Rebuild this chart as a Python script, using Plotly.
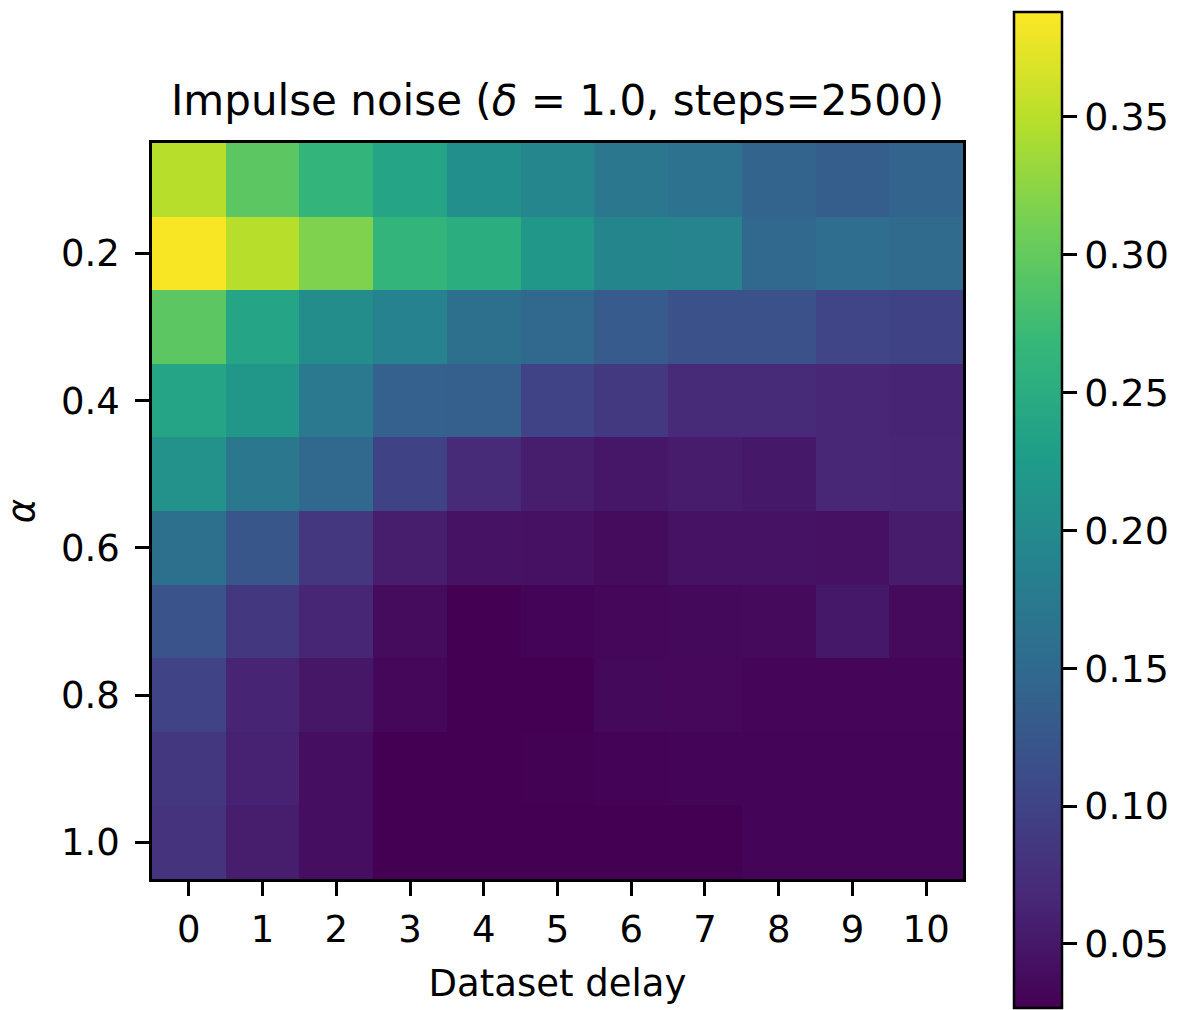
import plotly.graph_objects as go

delays = [0, 1, 2, 3, 4, 5, 6, 7, 8, 9, 10]
alphas = [0.1, 0.2, 0.3, 0.4, 0.5, 0.6, 0.7, 0.8, 0.9, 1.0]

z_a01 = [0.349, 0.295, 0.263, 0.238, 0.206, 0.195, 0.170, 0.162, 0.142, 0.134, 0.142]
z_a02 = [0.385, 0.349, 0.317, 0.263, 0.252, 0.217, 0.192, 0.190, 0.149, 0.156, 0.152]
z_a03 = [0.295, 0.238, 0.203, 0.188, 0.160, 0.149, 0.131, 0.118, 0.118, 0.102, 0.099]
z_a04 = [0.238, 0.217, 0.174, 0.138, 0.135, 0.100, 0.088, 0.070, 0.070, 0.066, 0.063]
z_a05 = [0.210, 0.170, 0.149, 0.099, 0.070, 0.056, 0.049, 0.055, 0.050, 0.066, 0.064]
z_a06 = [0.160, 0.124, 0.084, 0.056, 0.045, 0.043, 0.038, 0.045, 0.045, 0.043, 0.055]
z_a07 = [0.120, 0.085, 0.065, 0.038, 0.027, 0.030, 0.033, 0.035, 0.036, 0.050, 0.036]
z_a08 = [0.100, 0.063, 0.048, 0.033, 0.027, 0.027, 0.035, 0.034, 0.032, 0.032, 0.032]
z_a09 = [0.085, 0.060, 0.040, 0.027, 0.027, 0.028, 0.029, 0.031, 0.031, 0.031, 0.031]
z_a10 = [0.080, 0.056, 0.040, 0.027, 0.027, 0.027, 0.027, 0.027, 0.030, 0.030, 0.030]

z = [z_a01, z_a02, z_a03, z_a04, z_a05, z_a06, z_a07, z_a08, z_a09, z_a10]

x_ticks = delays
y_ticks = [0.2, 0.4, 0.6, 0.8, 1.0]
y_ticktext = ["0.2", "0.4", "0.6", "0.8", "1.0"]
cb_ticks = [0.05, 0.10, 0.15, 0.20, 0.25, 0.30, 0.35]
cb_ticktext = ["0.05", "0.10", "0.15", "0.20", "0.25", "0.30", "0.35"]

FONT = "DejaVu Sans"
TICK_SIZE = 37

fig = go.Figure(
    go.Heatmap(
        x=delays,
        y=alphas,
        z=z,
        colorscale="Viridis",
        zmin=0.0268,
        zmax=0.388,
        colorbar=dict(
            thickness=48,
            thicknessmode="pixels",
            len=996,
            lenmode="pixels",
            x=1.0625,
            xanchor="left",
            xref="paper",
            y=0.5014,
            yanchor="middle",
            ypad=0,
            xpad=0,
            outlinewidth=2.5,
            outlinecolor="black",
            tickvals=cb_ticks,
            ticktext=cb_ticktext,
            tickprefix="\u00a0",
            ticks="outside",
            ticklen=14,
            tickwidth=2.7,
            tickcolor="black",
            tickfont=dict(family=FONT, size=38, color="black"),
        ),
    )
)

fig.update_layout(
    width=1188,
    height=1010,
    margin=dict(l=152, r=225, t=143, b=131),
    paper_bgcolor="white",
    plot_bgcolor="white",
    font=dict(family=FONT, color="black"),
    title=dict(
        text="Impulse noise (<i>δ</i> = 1.0, steps=2500)",
        x=0.5,
        xref="paper",
        xanchor="center",
        y=1 - 100 / 1010,
        yref="container",
        yanchor="middle",
        font=dict(family=FONT, size=42, color="black"),
    ),
    xaxis=dict(
        range=[-0.5, 10.5],
        tickvals=x_ticks,
        ticks="outside",
        ticklen=14,
        tickwidth=2.7,
        tickcolor="black",
        ticklabelstandoff=2,
        tickfont=dict(family=FONT, size=TICK_SIZE, color="black"),
        showline=True,
        linecolor="black",
        linewidth=2.7,
        mirror=True,
        showgrid=False,
        zeroline=False,
        title=dict(text="Dataset delay", font=dict(family=FONT, size=37, color="black"), standoff=20),
    ),
    yaxis=dict(
        range=[1.05, 0.05],
        tickvals=y_ticks,
        ticktext=y_ticktext,
        ticks="outside",
        ticklen=14,
        tickwidth=2.7,
        tickcolor="black",
        ticklabelstandoff=8,
        tickfont=dict(family=FONT, size=TICK_SIZE, color="black"),
        showline=True,
        linecolor="black",
        linewidth=2.7,
        mirror=True,
        showgrid=False,
        zeroline=False,
        title=dict(text="<i>α</i>", font=dict(family=FONT, size=37, color="black"), standoff=16),
    ),
)

fig.write_html("out.html")
